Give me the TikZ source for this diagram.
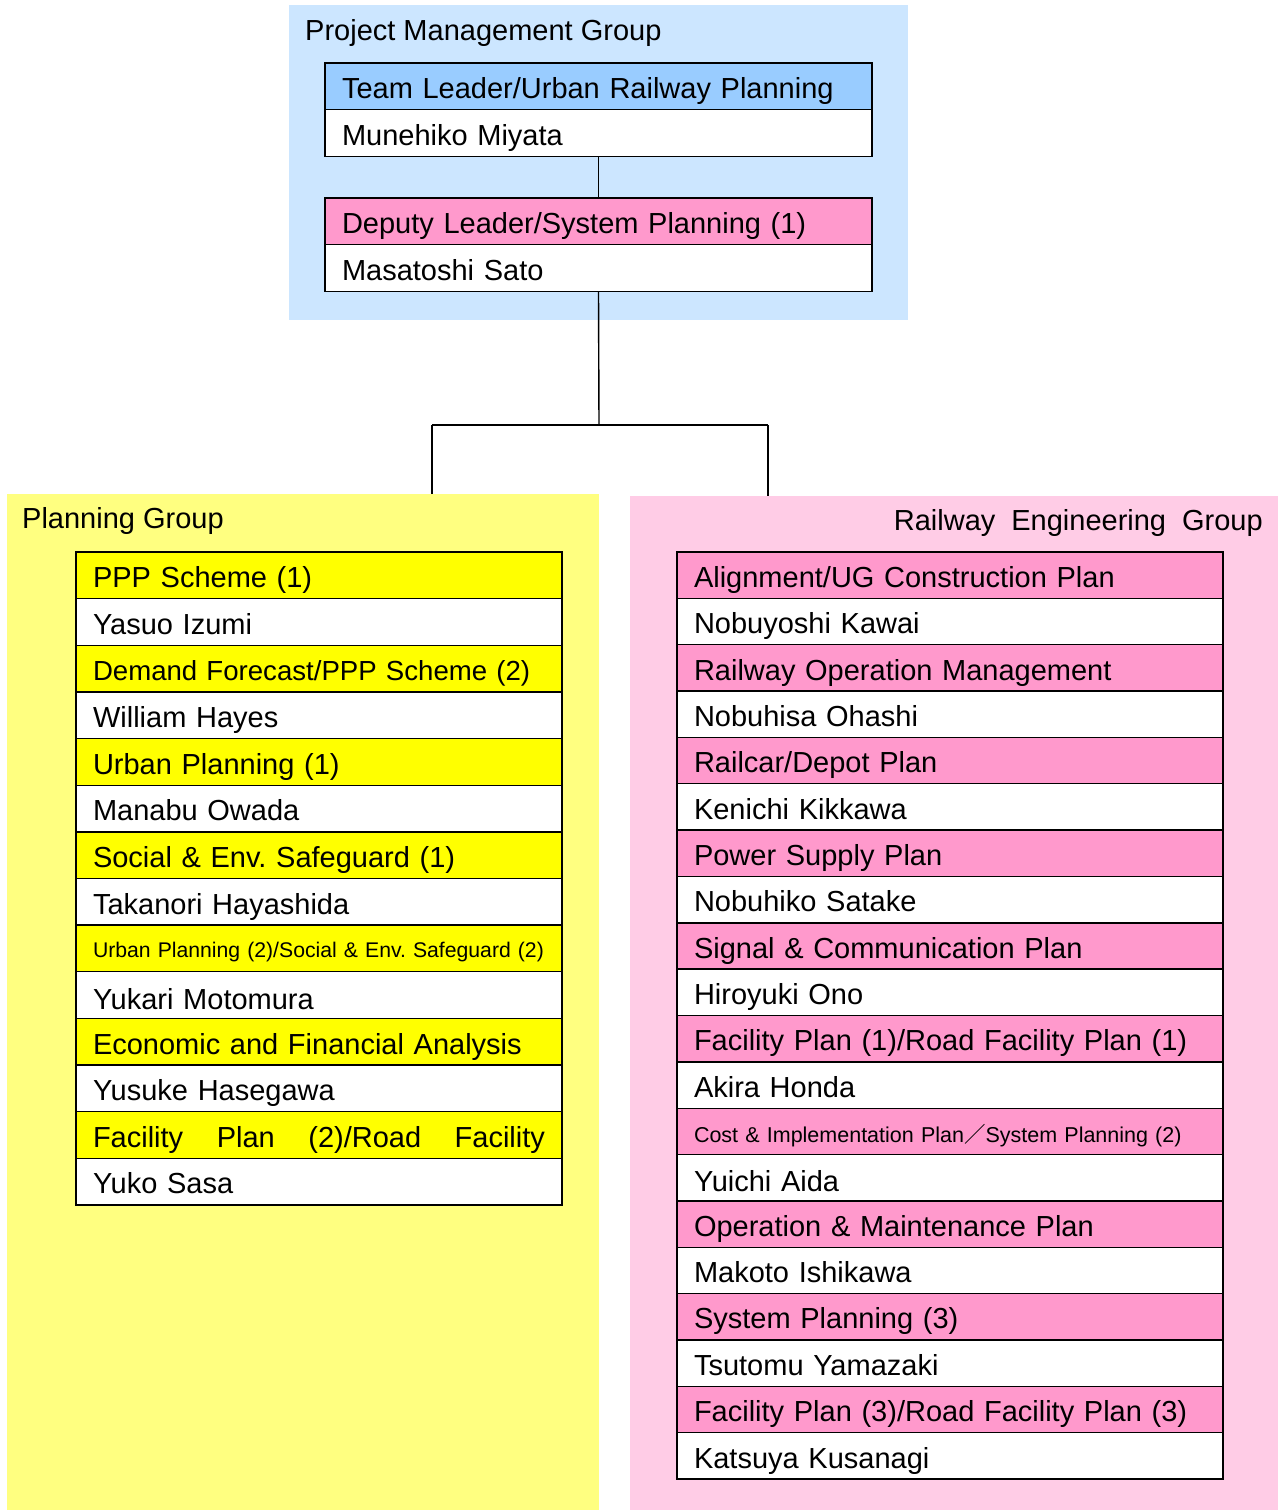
\documentclass[tikz,border=0pt]{standalone}
\usepackage{fontspec}
\setmainfont{Liberation Sans}
\newfontfamily\cjkfont{Noto Sans CJK JP}
\newcommand\mainsz{\fontsize{29}{34}\selectfont}
\newcommand\demandsz{\fontsize{27.6}{34}\selectfont}
\newcommand\lsmallsz{\fontsize{21.2}{26}\selectfont}
\newcommand\rsmallsz{\fontsize{21.5}{26}\selectfont}
\definecolor{pmpanel}{HTML}{CCE6FF}
\definecolor{pgpanel}{HTML}{FFFF80}
\definecolor{repanel}{HTML}{FFCCE6}
\definecolor{bluehead}{HTML}{99CCFF}
\definecolor{pinkhead}{HTML}{FF99CC}
\definecolor{yellowhead}{HTML}{FFFF00}
\frenchspacing
\begin{document}
\frenchspacing
\begin{tikzpicture}[x=1pt,y=-1pt,
  panel/.style={draw=none, rectangle, anchor=north west, inner sep=0pt, outer sep=0pt},
  cellbase/.style={draw=black, line width=1.4pt, rectangle, anchor=north west, inner xsep=17pt, inner ysep=0pt, outer sep=0pt, align=left, font=\mainsz, fill=white},
  tcell/.style={cellbase, text width=513pt, text height=35.6pt, text depth=11pt},
  lcell/.style={cellbase, text width=452pt, text height=35.64pt, text depth=11pt},
  rcell/.style={cellbase, text width=512pt, text height=35.35pt, text depth=11pt},
  lsmall/.style={font=\lsmallsz, text height=32.64pt, text depth=14pt},
  rsmall/.style={font=\rsmallsz, text height=34.35pt, text depth=12pt},
  title/.style={font=\mainsz, inner sep=0pt},
  conn/.style={draw=black, line width=1.4pt}]
\useasboundingbox (0,0) rectangle (1278,1510);
\fill[white] (0,0) rectangle (1278,1510);
% panels
\node[panel, fill=pmpanel, minimum width=619pt, minimum height=315pt] (pm) at (289,5) {};
\node[panel, fill=pgpanel, minimum width=592pt, minimum height=1016pt] (pg) at (7,494) {};
\node[panel, fill=repanel, minimum width=648pt, minimum height=1014pt] (re) at (630,496) {};
% titles
\node[title, anchor=base west] (pmt) at (305,40) {Project Management Group};
\node[title, anchor=base west] (pgt) at (22,528) {Planning Group};
\node[title, anchor=base east] (ret) at (1263,530) {Railway\hspace{16pt}Engineering\hspace{16pt}Group};
% project management
\node[tcell, fill=bluehead] (th) at (325,63) {Team Leader/Urban Railway Planning};
\node[tcell, text height=36pt] (tn) at (th.south west) {Munehiko Miyata};
\node[tcell, fill=pinkhead] (dh) at (325,198) {Deputy Leader/System Planning (1)};
\node[tcell, text height=36pt] (dn) at (dh.south west) {Masatoshi Sato};
% planning group
\node[lcell, fill=yellowhead] (l1h) at (76,552) {PPP Scheme (1)};
\node[lcell] (l1n) at (l1h.south west) {Yasuo Izumi};
\node[lcell, fill=yellowhead, font=\demandsz] (l2h) at (l1n.south west) {Demand Forecast/PPP Scheme (2)};
\node[lcell] (l2n) at (l2h.south west) {William Hayes};
\node[lcell, fill=yellowhead] (l3h) at (l2n.south west) {Urban Planning (1)};
\node[lcell] (l3n) at (l3h.south west) {Manabu Owada};
\node[lcell, fill=yellowhead] (l4h) at (l3n.south west) {Social \& Env. Safeguard (1)};
\node[lcell] (l4n) at (l4h.south west) {Takanori Hayashida};
\node[lcell, lsmall, fill=yellowhead] (l5h) at (l4n.south west) {Urban Planning (2)/Social \& Env. Safeguard (2)};
\node[lcell, text height=37.64pt, text depth=9pt] (l5n) at (l5h.south west) {Yukari Motomura};
\node[lcell, fill=yellowhead] (l6h) at (l5n.south west) {Economic and Financial Analysis};
\node[lcell] (l6n) at (l6h.south west) {Yusuke Hasegawa};
\node[lcell, fill=yellowhead] (l7h) at (l6n.south west) {\makebox[452pt][s]{Facility\hfill Plan\hfill (2)/Road\hfill Facility}};
\node[lcell] (l7n) at (l7h.south west) {Yuko Sasa};
% railway engineering group
\node[rcell, fill=pinkhead] (r1h) at (677,552) {Alignment/UG Construction Plan};
\node[rcell] (r1n) at (r1h.south west) {Nobuyoshi Kawai};
\node[rcell, fill=pinkhead] (r2h) at (r1n.south west) {Railway Operation Management};
\node[rcell] (r2n) at (r2h.south west) {Nobuhisa Ohashi};
\node[rcell, fill=pinkhead] (r3h) at (r2n.south west) {Railcar/Depot Plan};
\node[rcell] (r3n) at (r3h.south west) {Kenichi Kikkawa};
\node[rcell, fill=pinkhead] (r4h) at (r3n.south west) {Power Supply Plan};
\node[rcell] (r4n) at (r4h.south west) {Nobuhiko Satake};
\node[rcell, fill=pinkhead] (r5h) at (r4n.south west) {Signal \& Communication Plan};
\node[rcell] (r5n) at (r5h.south west) {Hiroyuki Ono};
\node[rcell, fill=pinkhead] (r6h) at (r5n.south west) {Facility Plan (1)/Road Facility Plan (1)};
\node[rcell] (r6n) at (r6h.south west) {Akira Honda};
\node[rcell, rsmall, fill=pinkhead] (r7h) at (r6n.south west) {Cost \& Implementation Plan{\cjkfont ／}System Planning (2)};
\node[rcell, text height=37.35pt, text depth=9pt] (r7n) at (r7h.south west) {Yuichi Aida};
\node[rcell, fill=pinkhead] (r8h) at (r7n.south west) {Operation \& Maintenance Plan};
\node[rcell] (r8n) at (r8h.south west) {Makoto Ishikawa};
\node[rcell, fill=pinkhead] (r9h) at (r8n.south west) {System Planning (3)};
\node[rcell] (r9n) at (r9h.south west) {Tsutomu Yamazaki};
\node[rcell, fill=pinkhead] (r10h) at (r9n.south west) {Facility Plan (3)/Road Facility Plan (3)};
\node[rcell] (r10n) at (r10h.south west) {Katsuya Kusanagi};
% connectors
\coordinate (j) at (599,425);
\coordinate (jl) at (432,425);
\coordinate (jr) at (768,425);
\draw[conn] (tn.south) -- (dh.north);
\draw[conn] (dn.south) -- (j);
\draw[conn] (jl) -- (jr);
\draw[conn] (jl) -- (jl |- pg.north);
\draw[conn] (jr) -- (jr |- re.north);
\end{tikzpicture}
\end{document}
